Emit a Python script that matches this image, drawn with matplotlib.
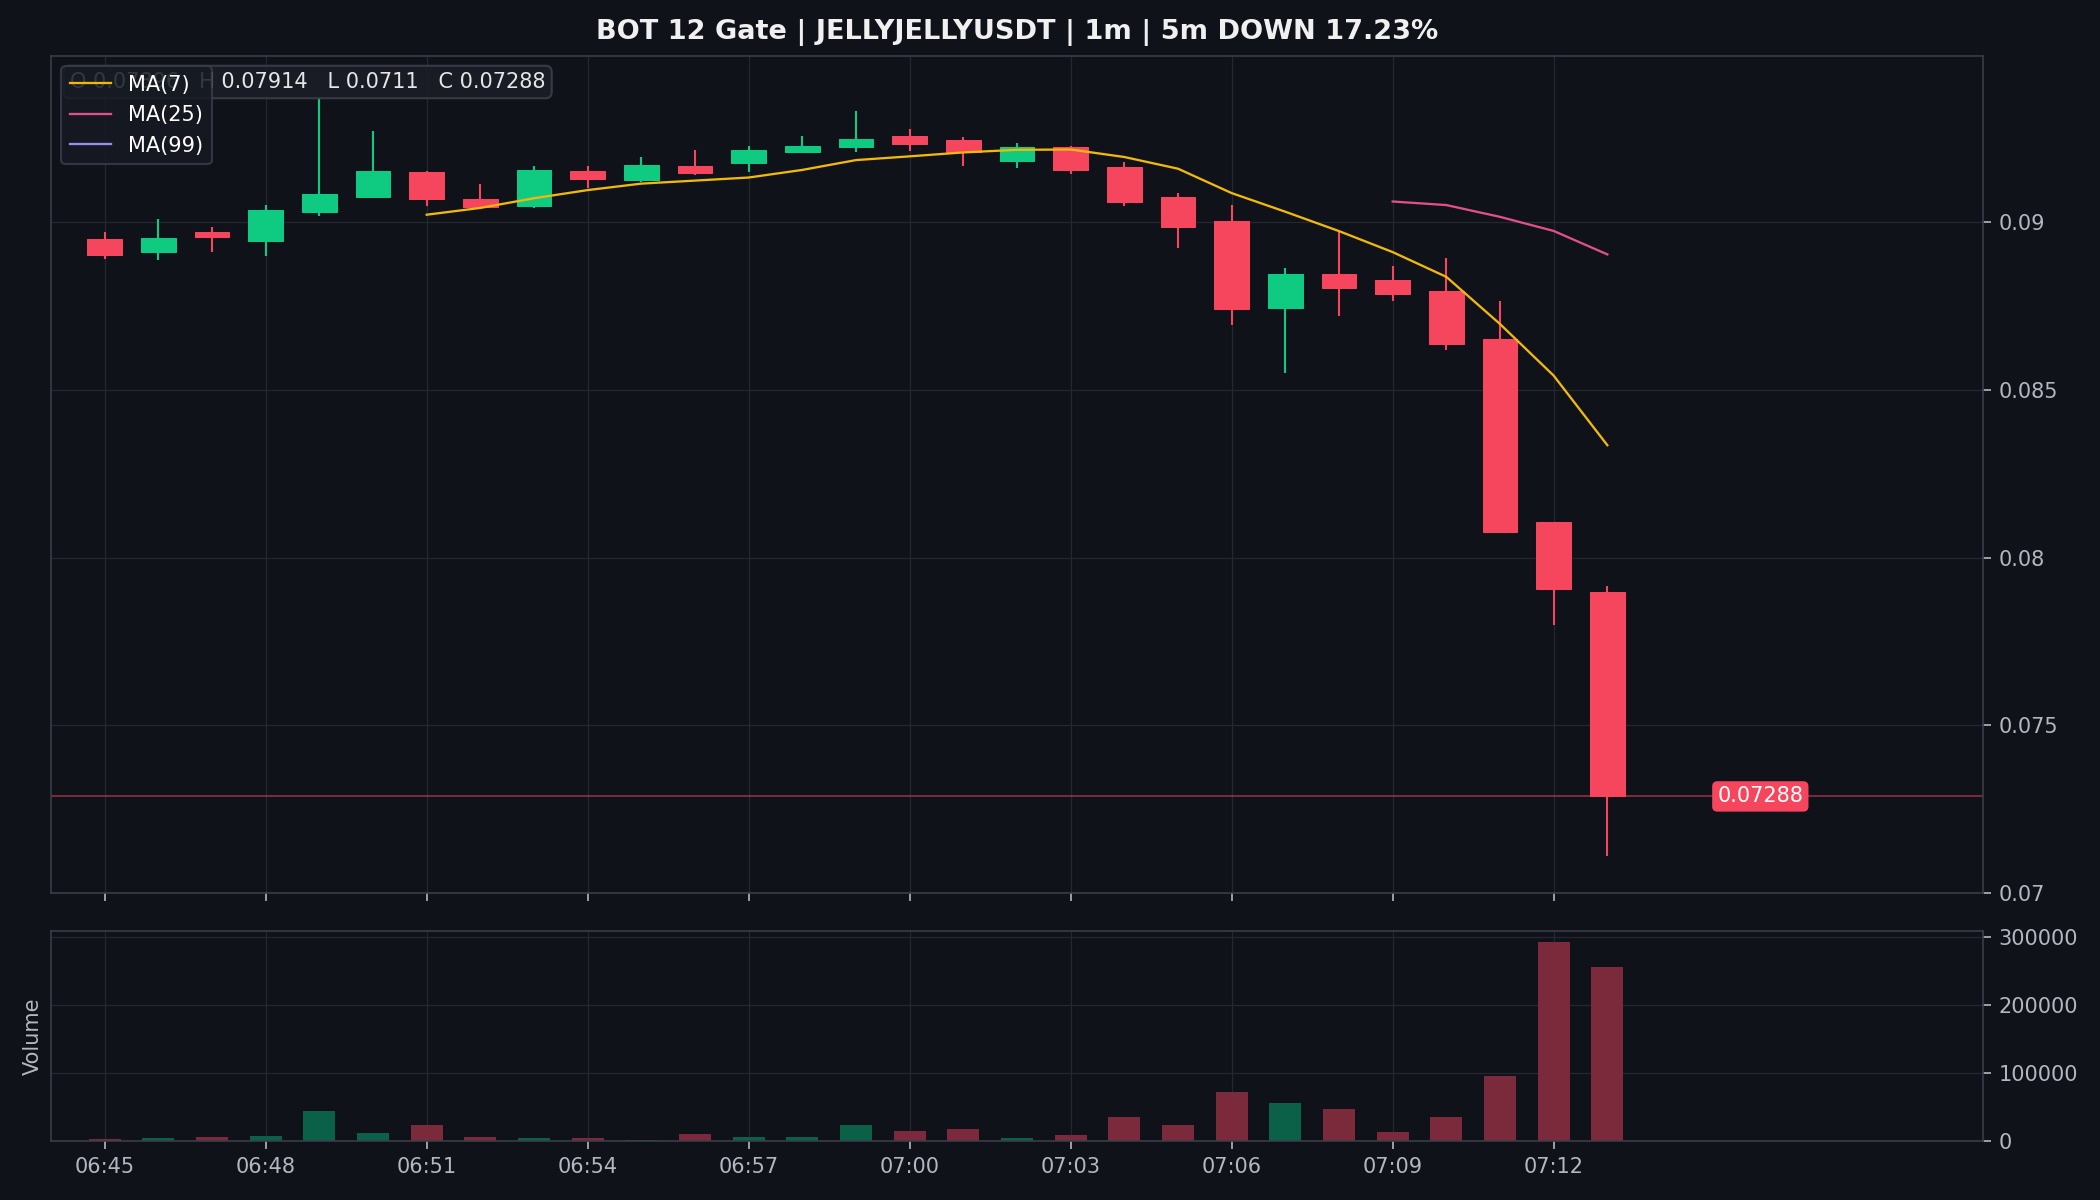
import numpy as np
import pandas as pd
import matplotlib
matplotlib.use("Agg")
import matplotlib.pyplot as plt
from matplotlib.ticker import FuncFormatter, MultipleLocator

#---------- data ----------#
times = ["06:45", "06:46", "06:47", "06:48", "06:49", "06:50", "06:51", "06:52",
         "06:53", "06:54", "06:55", "06:56", "06:57", "06:58", "06:59", "07:00",
         "07:01", "07:02", "07:03", "07:04", "07:05", "07:06", "07:07", "07:08",
         "07:09", "07:10", "07:11", "07:12", "07:13"]
opens = [0.08951, 0.08912, 0.08970, 0.08944, 0.09031, 0.09076, 0.09149, 0.09068,
         0.09049, 0.09152, 0.09126, 0.09168, 0.09175, 0.09210, 0.09223, 0.09258,
         0.09246, 0.09183, 0.09225, 0.09165, 0.09075, 0.09003, 0.08745, 0.08845,
         0.08828, 0.08794, 0.08652, 0.08106, 0.07896]
highs = [0.08970, 0.09009, 0.08985, 0.09052, 0.09374, 0.09273, 0.09152, 0.09114,
         0.09168, 0.09168, 0.09195, 0.09216, 0.09228, 0.09258, 0.09330, 0.09279,
         0.09254, 0.09237, 0.09228, 0.09180, 0.09088, 0.09052, 0.08864, 0.08973,
         0.08869, 0.08893, 0.08765, 0.08106, 0.07914]
lows = [0.08890, 0.08887, 0.08911, 0.08899, 0.09019, 0.09076, 0.09049, 0.09044,
        0.09043, 0.09102, 0.09121, 0.09139, 0.09150, 0.09207, 0.09210, 0.09213,
        0.09166, 0.09162, 0.09142, 0.09047, 0.08923, 0.08692, 0.08549, 0.08720,
        0.08766, 0.08620, 0.08075, 0.07798, 0.07110]
closes = [0.08902, 0.08954, 0.08957, 0.09036, 0.09084, 0.09152, 0.09069, 0.09044,
          0.09156, 0.09127, 0.09171, 0.09147, 0.09216, 0.09228, 0.09249, 0.09234,
          0.09209, 0.09225, 0.09154, 0.09059, 0.08984, 0.08740, 0.08845, 0.08805,
          0.08787, 0.08637, 0.08075, 0.07907, 0.07288]
volumes = [2500, 4400, 5400, 6900, 43600, 11300, 23000, 5400, 3900, 3900,
           800, 9800, 5400, 5400, 23000, 14200, 17200, 3900, 8300, 34800,
           23000, 71500, 55400, 46500, 12700, 34800, 95100, 293500, 256800]
ma_periods = [7, 25, 99]
ma_colors = ["#f0b90b", "#e0508a", "#9c8cf0"]
title = "BOT 12 Gate | JELLYJELLYUSDT | 1m | 5m DOWN 17.23%"
last_open = 0.07896

BG = "#10121a"
UP = "#0ecb81"
DOWN = "#f6465d"
GRID = "#2a2d36"
SPINE = "#3a3d47"
TXT = "#b4b7bf"

df = pd.DataFrame({"open": opens, "high": highs, "low": lows, "close": closes, "vol": volumes})
x = np.arange(len(df))
up = df["close"] >= df["open"]
cols = np.where(up, UP, DOWN)

fig = plt.figure(figsize=(14, 8), dpi=150, facecolor=BG)
ax = fig.add_axes([0.0243, 0.2558, 0.92, 0.6975], facecolor=BG)
axv = fig.add_axes([0.0243, 0.0492, 0.92, 0.175], facecolor=BG, sharex=ax)

# candles
ax.vlines(x, df["low"], df["high"], colors=cols, linewidth=1.0, zorder=2)
body_bot = np.minimum(df["open"], df["close"])
body_h = np.maximum(np.abs(df["close"] - df["open"]), 0.00003)
ax.bar(x, body_h, bottom=body_bot, width=0.65, color=cols, edgecolor=cols, linewidth=0.5, zorder=3)

# moving averages
for p, c in zip(ma_periods, ma_colors):
    ma = df["close"].rolling(p).mean()
    ax.plot(x, ma, color=c, linewidth=1.1, label="MA(%d)" % p, zorder=4)

# last price
last = df["close"].iloc[-1]
ax.axhline(last, color=DOWN, linewidth=0.8, alpha=0.55, zorder=1)
ax.text(30.85, last, "%g" % last, color="white", fontsize=10, ha="center", va="center",
        bbox=dict(boxstyle="round,pad=0.25", fc=DOWN, ec="none"), zorder=6)

# OHLC info
info = "O %g   H %g   L %g   C %g" % (last_open, df["high"].iloc[-1], df["low"].iloc[-1], last)
ax.text(0.0098, 0.969, info, transform=ax.transAxes, color="#e6e6e6", fontsize=10,
        ha="left", va="center", zorder=5,
        bbox=dict(boxstyle="round,pad=0.3", fc="#1a1d26", ec=SPINE, alpha=0.95))

leg = ax.legend(loc="upper left", fontsize=10, facecolor="#161a22", edgecolor=SPINE,
                framealpha=0.85, labelcolor="white")
leg.set_zorder(10)

ax.set_xlim(-1, 35)
ax.set_ylim(0.07, 0.09495)
ax.yaxis.set_major_locator(MultipleLocator(0.005))
ax.yaxis.set_major_formatter(FuncFormatter(lambda v, p: "%g" % round(v, 5)))
ax.set_title(title, color="#f0f0f0", fontsize=13, fontweight="bold", pad=8)

# volume
vcols = np.where(up, "#0b6148", "#7a2a3b")
axv.bar(x, df["vol"], width=0.6, color=vcols, zorder=2)
axv.set_ylim(0, df["vol"].max() * 1.055)
axv.yaxis.set_major_locator(MultipleLocator(100000))
axv.yaxis.set_major_formatter(FuncFormatter(lambda v, p: "%d" % v))
axv.set_ylabel("Volume", color=TXT, fontsize=10)

tick_pos = x[::3]
axv.set_xticks(tick_pos)
axv.set_xticklabels([times[i] for i in tick_pos])

for a in (ax, axv):
    a.yaxis.tick_right()
    a.tick_params(colors=TXT, labelsize=10, length=4)
    a.grid(True, color=GRID, linewidth=0.6, alpha=0.8)
    a.set_axisbelow(True)
    for s in a.spines.values():
        s.set_color(SPINE)
plt.setp(ax.get_xticklabels(), visible=False)

fig.savefig("out.png", dpi=150, facecolor=BG)
